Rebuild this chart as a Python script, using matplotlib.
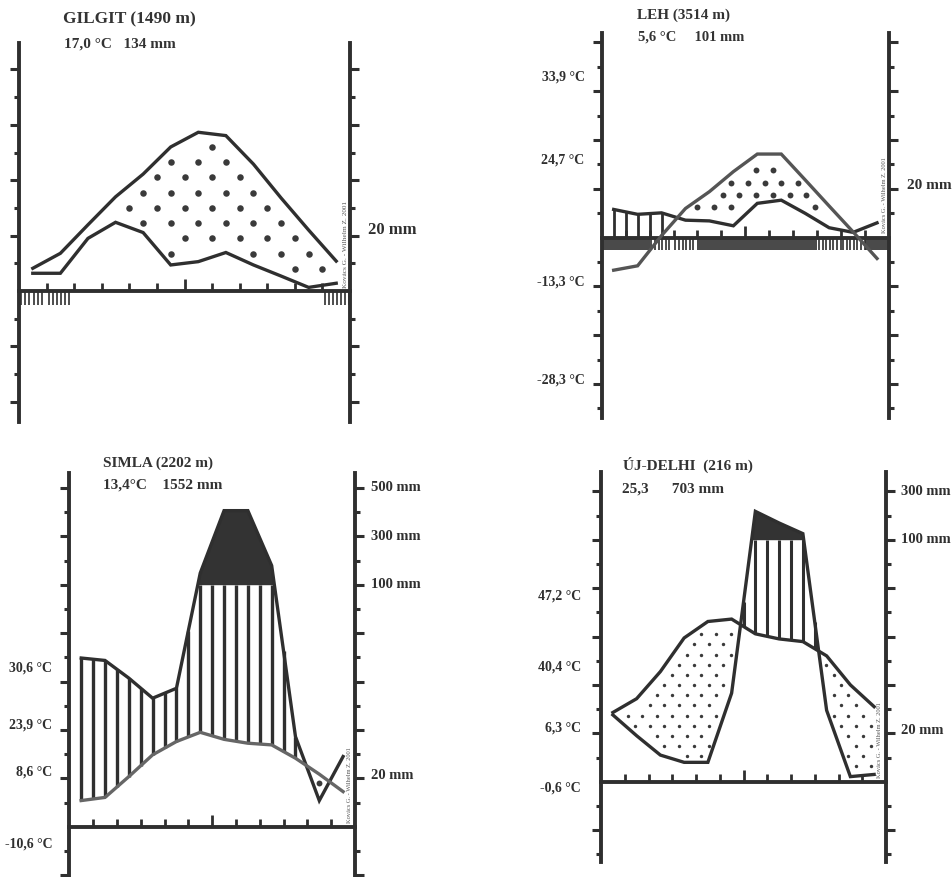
import numpy as np
import matplotlib.pyplot as plt
from matplotlib.ticker import FixedLocator

plt.rcParams['font.family'] = ['Liberation Serif', 'DejaVu Serif']

# month centres, x axis runs 0..12
months = np.arange(12) + 0.5

# curve values in diagram units (1 unit = one tick of the side axes, 0 = base line)
gilgit_temp = [0.82, 1.36, 2.39, 3.40, 4.22, 5.20, 5.73, 5.61, 4.58, 3.36, 2.20, 1.08]
gilgit_prec = [0.64, 0.64, 1.90, 2.48, 2.11, 0.94, 1.06, 1.39, 0.94, 0.54, 0.13, 0.28]
gilgit_frost = [0, 1, 11]

leh_temp = [-1.34, -1.16, 0.08, 1.19, 1.88, 2.70, 3.42, 3.42, 2.36, 1.29, 0.23, -0.86]
leh_prec = [1.15, 0.95, 1.01, 0.71, 0.68, 0.48, 1.40, 1.53, 0.99, 0.40, 0.21, 0.60]
leh_frost = [2, 3, 9, 10]
leh_frost_band = [0, 1, 4, 5, 6, 7, 8, 11]
leh_tlabels = ['33,9 °C', '24,7 °C', '-13,3 °C', '-28,3 °C']
leh_tlabel_y = [6.58, 3.18, -1.82, -5.84]

simla_temp = [1.08, 1.21, 2.07, 2.97, 3.52, 3.90, 3.61, 3.45, 3.38, 2.83, 2.17, 1.45]
simla_prec = [6.97, 6.87, 6.14, 5.31, 5.72, 10.48, 13.06, 13.06, 10.79, 3.72, 1.08, 2.90]
simla_tlabels = ['30,6 °C', '23,9 °C', '8,6 °C', '-10,6 °C']
simla_tlabel_y = [6.57, 4.20, 2.26, -0.71]
simla_plabels = ['500 mm', '300 mm', '100 mm', '20 mm']
simla_plabel_y = [14, 12, 10, 2.1]

delhi_temp = [2.86, 3.43, 4.55, 5.94, 6.62, 6.72, 6.11, 5.90, 5.79, 5.20, 4.00, 3.10]
delhi_prec = [2.76, 1.90, 1.10, 0.80, 0.80, 3.66, 11.17, 10.69, 10.25, 2.95, 0.21, 0.30]
delhi_tlabels = ['47,2 °C', '40,4 °C', '6,3 °C', '-0,6 °C']
delhi_tlabel_y = [7.67, 4.74, 2.22, -0.26]
delhi_plabels = ['300 mm', '100 mm', '20 mm']
delhi_plabel_y = [12, 10, 2.1]

W, H = 952, 877
INK = '#2f2f2f'
fig = plt.figure(figsize=(W / 100, H / 100), dpi=100)


def panel(x0, x1, ytop, ybot, base, tick):
    ax = fig.add_axes([x0 / W, 1 - ybot / H, (x1 - x0) / W, (ybot - ytop) / H])
    lo, hi = -(ybot - base) / tick, (base - ytop) / tick
    ax.set_xlim(0, 12)
    ax.set_ylim(lo, hi)
    ax.patch.set_alpha(0)
    for s in ['left', 'right', 'bottom']:
        ax.spines[s].set_linewidth(2.8)
        ax.spines[s].set_color(INK)
    ax.spines['top'].set_visible(False)
    ax.spines['bottom'].set_position(('data', 0))
    vals = range(int(np.ceil(lo)), int(np.floor(hi)) + 1)
    ax.yaxis.set_major_locator(FixedLocator([v for v in vals if v % 2 == 0 and v != 0]))
    ax.yaxis.set_minor_locator(FixedLocator([v for v in vals if v % 2 != 0]))
    ax.tick_params(axis='y', which='both', left=True, right=True, direction='out',
                   labelleft=False, labelright=False, width=2.2, color=INK)
    ax.tick_params(axis='y', which='major', length=6.5)
    ax.tick_params(axis='y', which='minor', length=3.8)
    ax.xaxis.set_major_locator(FixedLocator([6]))
    ax.xaxis.set_minor_locator(FixedLocator([1, 2, 3, 4, 5, 7, 8, 9, 10, 11]))
    ax.tick_params(axis='x', which='both', direction='in', labelbottom=False,
                   width=2.0, color=INK)
    ax.tick_params(axis='x', which='major', length=8.5)
    ax.tick_params(axis='x', which='minor', length=5.5)
    return ax


def curves(ax, temp, prec, tcol=INK, pcol=INK):
    ax.plot(months, prec, color=pcol, lw=2.4, solid_joinstyle='miter', zorder=4)
    ax.plot(months, temp, color=tcol, lw=2.4, solid_joinstyle='miter', zorder=4)


def humid(ax, temp, prec, start, end, lw=2.2):
    xs = np.arange(start, end + 0.01, 0.5)
    t = np.interp(xs, months, temp)
    p = np.interp(xs, months, prec)
    lo = np.maximum(t, 0)
    hi = np.minimum(p, 10)
    ok = hi > lo
    ax.vlines(xs[ok], lo[ok], hi[ok], color=INK, lw=lw, zorder=3)
    prec = np.array(prec)
    ax.fill_between(months, 10, prec, where=prec > 10, interpolate=True,
                    color='#333333', lw=0, zorder=3)


def dots(ax, temp, prec, dx, dy, pad, hpad, size, y0=None):
    pts = []
    y0 = dy / 2 if y0 is None else y0
    for j, y in enumerate(np.arange(y0, 12, dy)):
        xs = np.arange(0.5 + (j % 2) * dx / 2, 11.5, dx)
        t = np.min([np.interp(xs + s, months, temp) for s in (-hpad, 0, hpad)], axis=0)
        p = np.max([np.interp(xs + s, months, prec) for s in (-hpad, 0, hpad)], axis=0)
        ok = (y < t - pad) & (y > p + pad) & (y > pad)
        pts += [(x, y) for x in xs[ok]]
    if pts:
        pts = np.array(pts)
        ax.scatter(pts[:, 0], pts[:, 1], s=size, color='#3a3a3a', lw=0, zorder=3)


def frost(ax, hatch_months, band_months=()):
    for m in hatch_months:
        xs = np.arange(m + 0.08, m + 0.98, 0.15)
        ax.vlines(xs, -0.5, 0, color=INK, lw=1.2, zorder=3)
    if band_months:
        ax.broken_barh([(m, 1) for m in band_months], (-0.5, 0.5),
                       color='#4a4a4a', lw=0, zorder=2)


def sign(ax, xfrac, y, size=4.6):
    ax.text(xfrac, y, 'Kovács G. - Wilhelm Z. 2001', rotation=90, fontsize=size,
            color='#555555', ha='center', va='bottom',
            transform=ax.get_yaxis_transform())


def left_labels(ax, labels, ys, off):
    for s, y in zip(labels, ys):
        ax.annotate(s, xy=(0, y), xycoords=('axes fraction', 'data'), xytext=(off, 0),
                    textcoords='offset pixels', ha='right', va='center',
                    fontsize=10, fontweight='bold', color=INK, annotation_clip=False)


def right_labels(ax, labels, ys, off, size=10.5):
    for s, y in zip(labels, ys):
        ax.annotate(s, xy=(1, y), xycoords=('axes fraction', 'data'), xytext=(off, 0),
                    textcoords='offset pixels', ha='left', va='center',
                    fontsize=size, fontweight='bold', color=INK, annotation_clip=False)


def heading(x, y, s, size):
    fig.text(x / W, 1 - y / H, s, ha='left', va='center', fontsize=size,
             fontweight='bold', color='#333333')


# GILGIT
ax = panel(19, 350, 43, 422, 291, 27.7)
dots(ax, gilgit_temp, gilgit_prec, 1.0, 0.55, 0.26, 0.12, 22, y0=0.25)
frost(ax, gilgit_frost)
curves(ax, gilgit_temp, gilgit_prec)
right_labels(ax, ['20 mm'], [2.2], 18, 12)
sign(ax, 0.985, 0.1, 5.2)
heading(63, 19, 'GILGIT (1490 m)', 12.5)
heading(64, 44, '17,0 °C   134 mm', 11)

# LEH
ax = panel(601.7, 889, 33, 418, 237.5, 24.4)
humid(ax, leh_temp, leh_prec, 0.5, 2.5, lw=2.0)
dots(ax, leh_temp, leh_prec, 0.7, 0.5, 0.2, 0.12, 18)
frost(ax, leh_frost, leh_frost_band)
curves(ax, leh_temp, leh_prec, tcol='#555555')
left_labels(ax, leh_tlabels, leh_tlabel_y, -17)
right_labels(ax, ['20 mm'], [2.15], 18, 11)
sign(ax, 0.983, 0.18)
heading(637, 15, 'LEH (3514 m)', 11)
heading(638, 37, '5,6 °C     101 mm', 10.5)

# SIMLA
ax = panel(69.3, 355, 473, 880, 826.7, 24.2)
humid(ax, simla_temp, simla_prec, 0.5, 9.5, lw=2.4)
dots(ax, simla_temp, simla_prec, 0.8, 0.55, 0.15, 0.08, 18, y0=0.15)
curves(ax, simla_temp, simla_prec, tcol='#666666')
left_labels(ax, simla_tlabels, simla_tlabel_y, -17)
right_labels(ax, simla_plabels, simla_plabel_y, 16)
sign(ax, 0.982, 0.15)
heading(103, 463, 'SIMLA (2202 m)', 11)
heading(103, 485, '13,4°C    1552 mm', 11)

# UJ-DELHI
ax = panel(601, 886, 472, 862, 781.7, 24.2)
humid(ax, delhi_temp, delhi_prec, 6.0, 9.0, lw=2.2)
dots(ax, delhi_temp, delhi_prec, 0.62, 0.42, 0.2, 0.12, 6)
curves(ax, delhi_temp, delhi_prec)
left_labels(ax, delhi_tlabels, delhi_tlabel_y, -20)
right_labels(ax, delhi_plabels, delhi_plabel_y, 15)
sign(ax, 0.977, 0.15)
heading(623, 465, 'ÚJ-DELHI  (216 m)', 11)
heading(622, 489, '25,3      703 mm', 11)

fig.savefig('out.png', dpi=100)
